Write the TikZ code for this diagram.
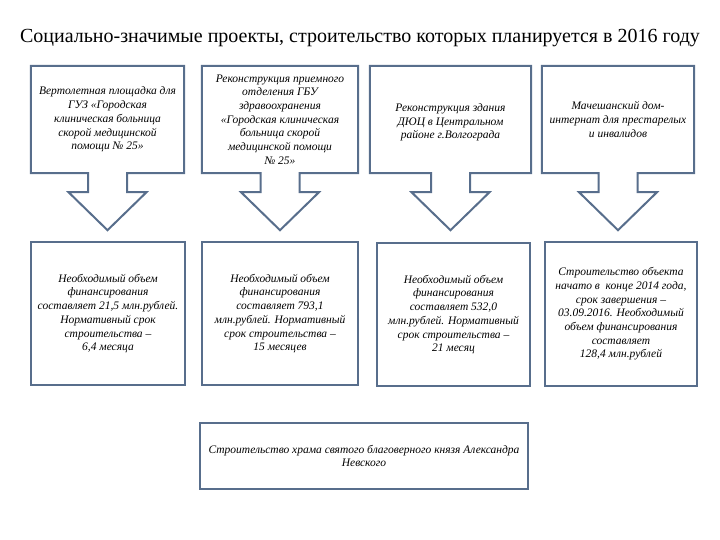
\documentclass[tikz,border=0pt]{standalone}
\usepackage{fontspec}
\setmainfont{Liberation Serif}
\usetikzlibrary{calc}
\definecolor{edge}{RGB}{88,110,140}
\begin{document}
\begin{tikzpicture}[x=1pt,y=-1pt,
  txt/.style={inner sep=0pt,align=center,font=\fontsize{11.5}{13.7}\selectfont\itshape},
  topbox/.style={txt,minimum height=107pt},
  box/.style={txt,draw=edge,line width=2pt,fill=white},
  outl/.style={draw=edge,line width=2pt,line join=miter,fill=white}]
\useasboundingbox (0,0) rectangle (720,540);
\node[font=\fontsize{20}{24}\selectfont] (title) at (360,38) {Социально-значимые проекты, строительство которых планируется в 2016 году};
% top row (shapes only, text later)
\node[topbox,minimum width=153pt] (t1) at (107.5,119.5) {};
\node[topbox,minimum width=156pt] (t2) at (280,119.5) {};
\node[topbox,minimum width=161pt] (t3) at (450.5,119.5) {};
\node[topbox,minimum width=152pt] (t4) at (618,119.5) {};
\foreach \n in {t1,t2,t3,t4}{
  \draw[outl] (\n.north west) -- (\n.north east) -- (\n.south east)
    -- ($(\n.south)+(19.5,0)$) -- ($(\n.south)+(19.5,19)$) -- ($(\n.south)+(39,19)$)
    -- ($(\n.south)+(0,57)$) -- ($(\n.south)+(-39,19)$) -- ($(\n.south)+(-19.5,19)$)
    -- ($(\n.south)+(-19.5,0)$) -- (\n.south west) -- cycle;
}
\node[txt] at (t1) {Вертолетная площадка для\\ГУЗ «Городская\\клиническая больница\\скорой медицинской\\помощи № 25»};
\node[txt] at (t2) {Реконструкция приемного\\отделения ГБУ\\здравоохранения\\«Городская клиническая\\больница скорой\\медицинской помощи\\№ 25»};
\node[txt] at ($(t3)+(0,3)$) {Реконструкция здания\\ДЮЦ в Центральном\\районе г.Волгограда};
\node[txt] at (t4) {Мачешанский дом-\\интернат для престарелых\\и инвалидов};
% second row
\node[box,minimum width=154pt,minimum height=143pt] (m1) at (108,313.5) {Необходимый объем\\финансирования\\составляет 21,5 млн.рублей.\\Нормативный срок\\строительства –\\6,4 месяца};
\node[box,minimum width=156pt,minimum height=143pt] (m2) at (280,313.5) {Необходимый объем\\финансирования\\составляет 793,1\\млн.рублей. Нормативный\\срок строительства –\\15 месяцев};
\node[box,minimum width=153pt,minimum height=143pt] (m3) at (453.5,314.5) {Необходимый объем\\финансирования\\составляет 532,0\\млн.рублей. Нормативный\\срок строительства –\\21 месяц};
\node[box,minimum width=152pt,minimum height=144pt] (m4) at (621,314) {Строительство объекта\\начато в\ \ конце 2014 года,\\срок завершения –\\03.09.2016. Необходимый\\объем финансирования\\составляет\\128,4 млн.рублей};
% bottom
\node[box,minimum width=328pt,minimum height=66pt] (b) at (364,456) {Строительство храма святого благоверного князя Александра\\Невского};
\end{tikzpicture}
\end{document}
